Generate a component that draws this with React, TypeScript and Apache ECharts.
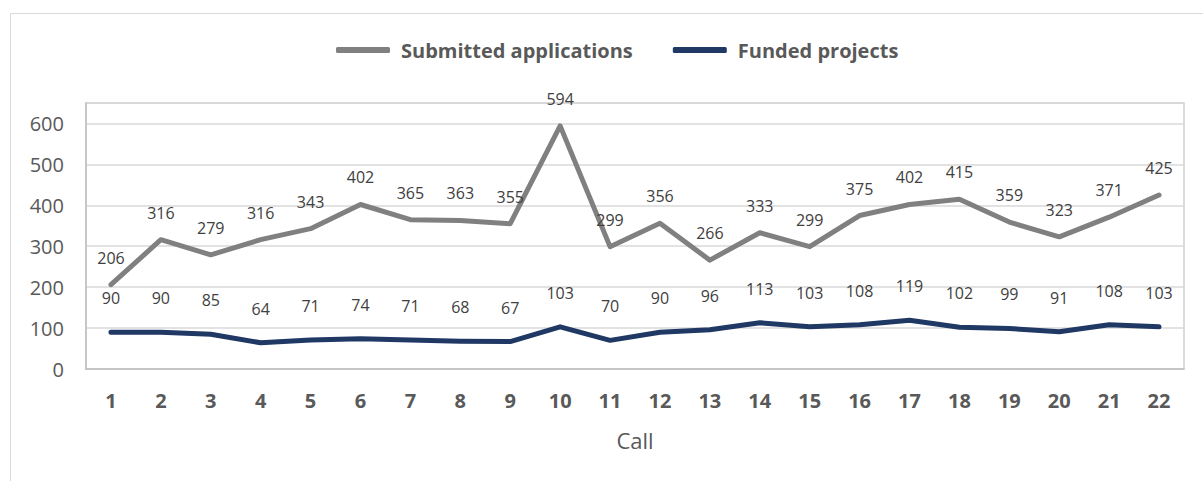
import React, { useEffect, useRef } from "react";
import * as echarts from "echarts";

const calls = ["1","2","3","4","5","6","7","8","9","10","11","12","13","14","15","16","17","18","19","20","21","22"];
const submitted = [206,316,279,316,343,402,365,363,355,594,299,356,266,333,299,375,402,415,359,323,371,425];
const funded = [90,90,85,64,71,74,71,68,67,103,70,90,96,113,103,108,119,102,99,91,108,103];
const seriesNames = ["Submitted applications", "Funded projects"];
const axisTitle = "Call";

const FONT = "'Open Sans', sans-serif";

export default function App() {
  const ref = useRef<HTMLDivElement>(null);
  useEffect(() => {
    const chart = echarts.init(ref.current!, null, { renderer: "svg" });
    const label = {
      show: true,
      position: "top" as const,
      distance: 19,
      color: "#404040",
      fontSize: 16,
      fontFamily: FONT,
    };
    chart.setOption({
      animation: false,
      textStyle: { fontFamily: FONT },
      graphic: [
        {
          type: "rect",
          shape: { x: 10.5, y: 13.5, width: 1200, height: 480 },
          style: { fill: "none", stroke: "#d9d9d9", lineWidth: 1 },
          silent: true,
        },
        {
          type: "rect",
          shape: { x: 86, y: 103, width: 1098, height: 266 },
          style: { fill: "none", stroke: "#d0d0d0", lineWidth: 1.5 },
          silent: true,
          z: 0,
        },
      ],
      legend: {
        top: 35,
        left: 331,
        itemWidth: 54,
        itemHeight: 6,
        itemGap: 40,
        icon: "roundRect",
        textStyle: { color: "#595959", fontSize: 20, fontWeight: "bold", fontFamily: FONT, padding: [0, 0, 0, 6] },
        data: seriesNames,
      },
      grid: { left: 86, right: 19, top: 103, bottom: 112, containLabel: false },
      xAxis: {
        type: "category",
        data: calls,
        boundaryGap: true,
        name: axisTitle,
        nameLocation: "middle",
        nameGap: 60,
        nameTextStyle: { color: "#595959", fontSize: 22, fontFamily: FONT },
        axisLine: { show: true, lineStyle: { color: "#bfbfbf", width: 1.5 } },
        axisTick: { show: false },
        axisLabel: { color: "#595959", fontSize: 20, fontWeight: "bold", margin: 21, fontFamily: FONT },
      },
      yAxis: {
        type: "value",
        min: 0,
        max: 650,
        interval: 100,
        axisLine: { show: true, lineStyle: { color: "#bfbfbf", width: 1.5 } },
        axisTick: { show: false },
        splitLine: { lineStyle: { color: "#d9d9d9", width: 1.5 } },
        axisLabel: {
          color: "#595959",
          fontSize: 20,
          margin: 22,
          fontFamily: FONT,
          showMaxLabel: false,
          formatter: (v: number) => (v % 100 === 0 ? String(v) : ""),
        },
      },
      series: [
        {
          name: seriesNames[0],
          type: "line",
          data: submitted,
          symbol: "circle",
          symbolSize: 0,
          lineStyle: { color: "#808080", width: 5, cap: "round", join: "round" },
          itemStyle: { color: "#808080" },
          label,
        },
        {
          name: seriesNames[1],
          type: "line",
          data: funded,
          symbol: "circle",
          symbolSize: 0,
          lineStyle: { color: "#1f3864", width: 5, cap: "round", join: "round" },
          itemStyle: { color: "#1f3864" },
          label: { ...label, distance: 26 },
        },
      ],
    });
    return () => chart.dispose();
  }, []);
  return (
    <div
      ref={ref}
      style={{ position: "fixed", left: 0, top: 0, width: 1203, height: 481, background: "#fff" }}
    />
  );
}
